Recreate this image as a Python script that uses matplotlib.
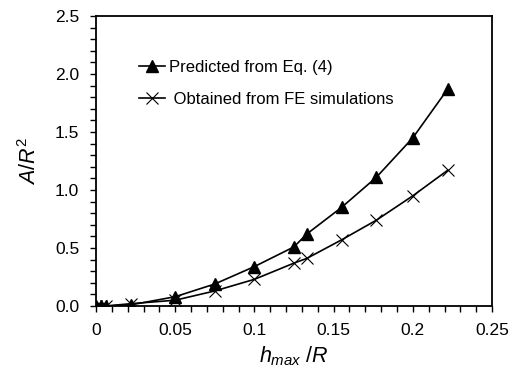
import matplotlib
matplotlib.use("Agg")
import matplotlib.pyplot as plt
from matplotlib.ticker import MultipleLocator

plt.rcParams['font.family'] = ['Liberation Sans', 'DejaVu Sans']
plt.rcParams['mathtext.fontset'] = 'custom'
plt.rcParams['mathtext.it'] = 'Liberation Sans:italic'
plt.rcParams['mathtext.rm'] = 'Liberation Sans'

h_ratio = [0.0, 0.003, 0.006, 0.022, 0.05, 0.075, 0.1, 0.125, 0.133, 0.155, 0.177, 0.2, 0.222]
predicted = [0.0, 0.0, 0.0, 0.01, 0.08, 0.19, 0.34, 0.51, 0.62, 0.85, 1.11, 1.45, 1.87]
fe_sim = [0.0, 0.0, 0.0, 0.02, 0.05, 0.13, 0.23, 0.37, 0.41, 0.57, 0.74, 0.95, 1.17]
x_ticks = [0, 0.05, 0.1, 0.15, 0.2, 0.25]
x_tick_labels = ['0', '0.05', '0.1', '0.15', '0.2', '0.25']
y_ticks = [0.0, 0.5, 1.0, 1.5, 2.0, 2.5]
y_tick_labels = ['0.0', '0.5', '1.0', '1.5', '2.0', '2.5']

fig = plt.figure(figsize=(5.12, 3.69), dpi=100)
ax = fig.add_axes([0.1875, 0.1707, 0.7735, 0.7859])

ax.plot(h_ratio, predicted, color='black', lw=1.2, marker='^', markersize=8,
        markerfacecolor='black', markeredgecolor='black', label='Predicted from Eq. (4)')
ax.plot(h_ratio, fe_sim, color='black', lw=1.2, marker='x', markersize=9,
        markeredgewidth=0.8, label=' Obtained from FE simulations')

ax.set_xlim(0, 0.25)
ax.set_ylim(0, 2.5)
ax.set_xticks(x_ticks)
ax.set_xticklabels(x_tick_labels)
ax.set_yticks(y_ticks)
ax.set_yticklabels(y_tick_labels)
ax.xaxis.set_minor_locator(MultipleLocator(0.01))
ax.yaxis.set_minor_locator(MultipleLocator(0.1))
ax.tick_params(which='both', direction='out', length=4, width=1.0, labelsize=12.5, color='black')
ax.tick_params(axis='x', which='major', pad=8)
ax.tick_params(axis='y', which='major', pad=8)
for s in ax.spines.values():
    s.set_linewidth(1.3)

ax.set_xlabel(r'$h_{max}$ $/R$', fontsize=15.5, labelpad=5)
ax.set_ylabel(r'$A/R^{2}$', fontsize=15.5, labelpad=10)

leg = ax.legend(loc='upper left', bbox_to_anchor=(0.07, 0.9), frameon=False,
                fontsize=12, handlelength=1.6, handletextpad=0.2, labelspacing=1.0)

fig.savefig('out.png', dpi=100)
